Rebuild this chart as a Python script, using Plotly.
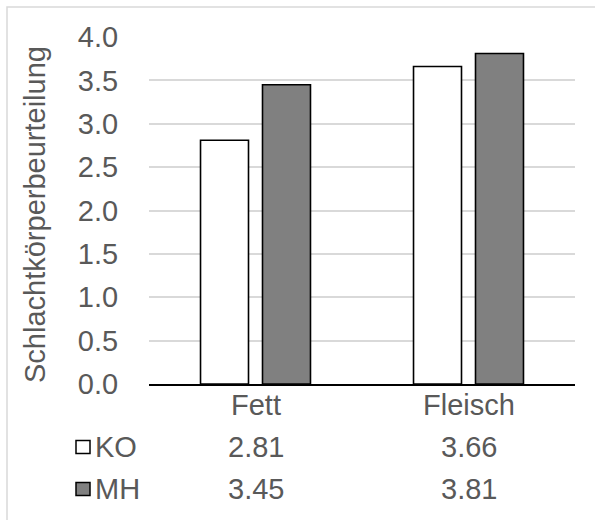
import plotly.graph_objects as go

categories = ["Fett", "Fleisch"]
series_names = ["KO", "MH"]
ko_values = [2.81, 3.66]
mh_values = [3.45, 3.81]
y_title = "Schlachtkörperbeurteilung"

W, H = 595, 520
L, R, T, B = 149, 20, 37, 136
PW, PH = W - L - R, H - T - B

def px_x(px):
    return (px - L) / PW

def px_y(py):
    return (H - B - py) / PH

FONT = "Liberation Sans, Arial, sans-serif"
TXT = "#595959"
FS = 29
colors = ["#ffffff", "#808080"]
series_values = [ko_values, mh_values]

fig = go.Figure()
for name, vals, col in zip(series_names, series_values, colors):
    fig.add_trace(go.Bar(
        x=categories, y=vals, name=name,
        marker=dict(color=col, line=dict(color="#000000", width=1.6)),
        showlegend=False,
    ))

annotations = []
# category labels row
for c in categories:
    annotations.append(dict(x=c, xref="x", y=px_y(405), yref="paper", text=c,
                            showarrow=False, font=dict(family=FONT, size=FS, color=TXT),
                            xanchor="center", yanchor="middle"))
# data table rows
row_y = [447, 489]
shapes = []
for name, vals, col, ry in zip(series_names, series_values, colors, row_y):
    for c, v in zip(categories, vals):
        annotations.append(dict(x=c, xref="x", y=px_y(ry), yref="paper", text=f"{v:.2f}",
                                showarrow=False, font=dict(family=FONT, size=FS, color=TXT),
                                xanchor="center", yanchor="middle"))
    annotations.append(dict(x=px_x(93), xref="paper", y=px_y(ry), yref="paper", text=name,
                            showarrow=False, font=dict(family=FONT, size=FS, color=TXT),
                            xanchor="left", yanchor="middle"))
    shapes.append(dict(type="rect", xref="paper", yref="paper",
                       x0=px_x(76), x1=px_x(90), y0=px_y(ry + 6.5), y1=px_y(ry - 6.5),
                       fillcolor=col, line=dict(color="#000000", width=1.5)))

# y-axis title
annotations.append(dict(x=px_x(35), xref="paper", y=px_y(215), yref="paper", text=y_title,
                        textangle=-90, showarrow=False,
                        font=dict(family=FONT, size=FS, color=TXT),
                        xanchor="center", yanchor="middle"))

# outer chart border (left and top visible)
shapes.append(dict(type="rect", xref="paper", yref="paper",
                   x0=px_x(7), x1=px_x(640), y0=px_y(560), y1=px_y(7),
                   fillcolor="rgba(0,0,0,0)", line=dict(color="#d9d9d9", width=1.5),
                   layer="below"))

fig.update_layout(
    width=W, height=H,
    margin=dict(l=L, r=R, t=T, b=B, pad=0),
    paper_bgcolor="#ffffff", plot_bgcolor="#ffffff",
    barmode="group", bargap=0.418, bargroupgap=0.226,
    annotations=annotations, shapes=shapes,
    font=dict(family=FONT, size=FS, color=TXT),
)
fig.update_xaxes(showticklabels=False, showgrid=False, showline=True,
                 linecolor="#000000", linewidth=1.5, zeroline=False,
                 range=[-0.5, 1.5])
fig.update_yaxes(range=[0, 4], dtick=0.5, tickformat=".1f", showgrid=True,
                 gridcolor="#d9d9d9", gridwidth=1.5, zeroline=False, showline=False,
                 ticks="outside", ticklen=24, tickcolor="rgba(0,0,0,0)",
                 tickfont=dict(family=FONT, size=FS, color=TXT))

fig.write_html("out.html")
